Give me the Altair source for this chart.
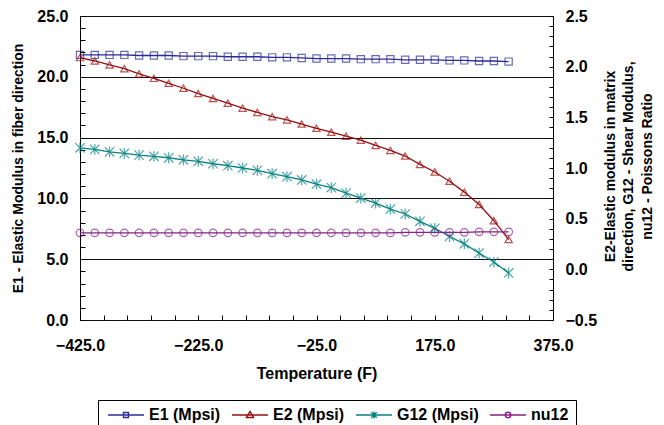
import altair as alt
import pandas as pd

# ---------------- data ----------------
temperature = list(range(-425, 301, 25))
e1 = [21.8, 21.8, 21.8, 21.8, 21.75, 21.75, 21.75, 21.7, 21.7, 21.7,
      21.65, 21.65, 21.65, 21.6, 21.6, 21.55, 21.5, 21.5, 21.5, 21.45,
      21.45, 21.45, 21.4, 21.4, 21.4, 21.35, 21.35, 21.3, 21.3, 21.25]
e2 = [2.09, 2.056, 2.017, 1.98, 1.928, 1.885, 1.836, 1.787, 1.735, 1.686,
      1.64, 1.591, 1.549, 1.507, 1.475, 1.434, 1.392, 1.353, 1.314, 1.275,
      1.223, 1.174, 1.118, 1.036, 0.961, 0.87, 0.762, 0.64, 0.48, 0.294]
g12 = [1.199, 1.183, 1.16, 1.144, 1.127, 1.115, 1.101, 1.081, 1.066, 1.042,
       1.023, 1.0, 0.977, 0.944, 0.914, 0.882, 0.84, 0.807, 0.752, 0.703,
       0.654, 0.595, 0.546, 0.474, 0.405, 0.324, 0.252, 0.16, 0.072, -0.036]
nu12 = [0.36, 0.36, 0.36, 0.36, 0.36, 0.36, 0.36, 0.36, 0.36, 0.36,
        0.36, 0.36, 0.36, 0.36, 0.36, 0.36, 0.36, 0.36, 0.36, 0.36,
        0.36, 0.36, 0.365, 0.365, 0.365, 0.365, 0.365, 0.37, 0.37, 0.37]

series_names = ["E1 (Mpsi)", "E2 (Mpsi)", "G12 (Mpsi)", "nu12"]
series_colors = ["#2B2B9C", "#990F0F", "#078282", "#862286"]

x_label_values = [-425, -225, -25, 175, 375]
x_tick_values = list(range(-425, 376, 40))
left_label_values = [0, 5, 10, 15, 20, 25]
left_tick_values = list(range(0, 26))
right_label_values = [-0.5, 0.0, 0.5, 1.0, 1.5, 2.0, 2.5]
right_tick_values = [round(-0.5 + 0.1 * i, 1) for i in range(31)]

left_title = "E1 - Elastic Modulus in fiber direction"
right_title = ["E2-Elastic modulus in matrix",
               "direction, G12 - Shear Modulus,",
               "nu12 - Poissons Ratio"]
x_title = "Temperature (F)"

# legend symbols: a line with a small marker in the middle
legend_paths = [
    "M-1,0H6.2M2.1,-0.5H3.1V0.5H2.1Z",
    "M-1,0H6.2M2.6,-0.72L3.32,0.5H1.88Z",
    "M-1,0H6.2M2.05,-0.55L3.15,0.55M2.05,0.55L3.15,-0.55M2.6,-0.68V0.68",
    "M-1,0H6.2M3.15,0A0.55,0.55 0 1 1 2.05,0A0.55,0.55 0 1 1 3.15,0",
]

FONT = "Liberation Sans"
W, H = 473, 304

df = pd.DataFrame({"T": temperature, series_names[0]: e1, series_names[1]: e2,
                   series_names[2]: g12, series_names[3]: nu12})
long = df.melt("T", var_name="series", value_name="value")
legend_df = pd.DataFrame({"series": series_names})

base = alt.Chart(long)
x_scale = alt.Scale(domain=[-425, 375], nice=False, zero=False)
yl_scale = alt.Scale(domain=[0, 25], nice=False, zero=False)
yr_scale = alt.Scale(domain=[-0.5, 2.5], nice=False, zero=False)

x_bottom = alt.X("T:Q", scale=x_scale,
                 axis=alt.Axis(orient="bottom", values=x_label_values, format=".1f",
                               ticks=False, domain=False, grid=False, labelPadding=17,
                               labelFlush=False, labelOverlap=False,
                               title=x_title, titlePadding=12, titleFontSize=16))
x_top = alt.X("T:Q", scale=x_scale,
              axis=alt.Axis(orient="top", offset=-H, values=x_tick_values, labels=False,
                            ticks=True, tickSize=5, domain=False, grid=False, title=None))


def sel(i):
    return base.transform_filter(alt.datum.series == series_names[i])


# ---------- left group (E1) ----------
e1_line = sel(0).mark_line(strokeWidth=1.3, color=series_colors[0]).encode(
    x=x_bottom,
    y=alt.Y("value:Q", scale=yl_scale,
            axis=alt.Axis(orient="left", values=left_label_values, format=".1f",
                          ticks=False, domain=False, grid=True, gridColor="#111111",
                          gridWidth=1, labelPadding=12, labelFlush=False,
                          labelOverlap=False, title=left_title,
                          titlePadding=11, titleFontSize=14)),
)
e1_pts = sel(0).mark_point(shape="square", size=52, filled=False, strokeWidth=1.2,
                           color=series_colors[0]).encode(
    x=x_bottom,
    y=alt.Y("value:Q", scale=yl_scale,
            axis=alt.Axis(orient="right", offset=-W, values=left_tick_values, labels=False,
                          ticks=True, tickSize=5, domain=False, grid=False, title=None)),
)
left = alt.layer(e1_line, e1_pts).resolve_axis(y="independent")

# ---------- right group (E2, G12, nu12) ----------
e2_line = sel(1).mark_line(strokeWidth=1.3, color=series_colors[1]).encode(
    x=x_top,
    y=alt.Y("value:Q", scale=yr_scale,
            axis=alt.Axis(orient="right", values=right_label_values, format=".1f",
                          ticks=False, domain=False, grid=False, labelPadding=12,
                          labelFlush=False, labelOverlap=False,
                          title=right_title, titleAngle=270, titleBaseline="middle",
                          titleAlign="center", titleX=57, titleY=H / 2 - 2,
                          titleFontSize=14, titleLineHeight=18.5)),
)
g12_line = sel(2).mark_line(strokeWidth=1.3, color=series_colors[2]).encode(
    x=x_top, y=alt.Y("value:Q", scale=yr_scale, axis=None))
nu_line = sel(3).mark_line(strokeWidth=1.3, color=series_colors[3]).encode(
    x=x_top, y=alt.Y("value:Q", scale=yr_scale, axis=None))

e2_pts = sel(1).mark_point(
    shape="triangle-up", size=54, filled=False, strokeWidth=1.2, color=series_colors[1]
).encode(
    x=x_top,
    y=alt.Y("value:Q", scale=yr_scale,
            axis=alt.Axis(orient="left", offset=-W, values=right_tick_values, labels=False,
                          ticks=True, tickSize=4, domain=False, grid=False, title=None)),
)
g12_pts = sel(2).mark_point(
    shape="M-1,-1L1,1M-1,1L1,-1M0,-1.15V1.15", size=88, filled=False, strokeWidth=1.2,
    color=series_colors[2]
).encode(x=x_top, y=alt.Y("value:Q", scale=yr_scale, axis=None))
nu_pts = sel(3).mark_point(
    shape="circle", size=58, filled=False, strokeWidth=1.2, color=series_colors[3]
).encode(x=x_top, y=alt.Y("value:Q", scale=yr_scale, axis=None))

right = alt.layer(e2_line, g12_line, nu_line, e2_pts, g12_pts, nu_pts).resolve_axis(
    y="independent")

# ---------- legend (carried by an invisible layer) ----------
legend_cfg = dict(orient="none", legendX=18, legendY=384, direction="horizontal",
                  title=None, symbolSize=100, symbolStrokeWidth=1.4, symbolOpacity=1,
                  symbolFillColor="transparent",
                  labelOffset=28, columnPadding=8, padding=7, strokeColor="black",
                  fillColor="white", labelFontSize=16, labelFont=FONT,
                  labelFontWeight="bold", labelColor="black")
legend_layer = alt.Chart(legend_df).mark_point(filled=False, opacity=0).encode(
    color=alt.Color("series:N", scale=alt.Scale(domain=series_names, range=series_colors),
                    legend=alt.Legend(**legend_cfg)),
    shape=alt.Shape("series:N", scale=alt.Scale(domain=series_names, range=legend_paths),
                    legend=alt.Legend(**legend_cfg)),
)

chart = (
    alt.layer(left, right, legend_layer)
    .resolve_scale(y="independent")
    .resolve_axis(x="independent")
    .properties(width=W, height=H,
                autosize=alt.AutoSizeParams(type="none"),
                padding={"left": 72, "top": 8, "right": 103, "bottom": 110})
    .configure_view(stroke="black", strokeWidth=1)
    .configure_axis(labelFont=FONT, labelFontSize=16, labelFontWeight="bold",
                    labelColor="black", titleFont=FONT, titleFontWeight="bold",
                    titleColor="black", tickColor="black", domainColor="black")
)

chart.save("out.html", embed_options={"renderer": "svg", "actions": False})
